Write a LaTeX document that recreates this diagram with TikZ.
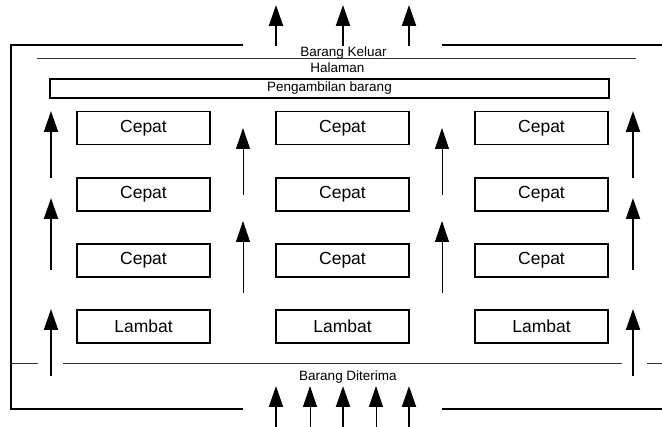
\documentclass[tikz,border=0pt]{standalone}
\usepackage{fontspec}
\setmainfont{Liberation Sans}
\usetikzlibrary{arrows.meta}

\tikzset{
  rak/.style={draw, line width=1.2pt, minimum width=133pt, minimum height=33pt, inner sep=0pt, font=\fontsize{17.5}{20}\selectfont},
  keterangan/.style={anchor=base, inner sep=0pt, font=\fontsize{13.5}{15}\selectfont},
  panah/.style={-{Triangle[width=14pt,length=21pt]}, line width=2pt},
  panahtipis/.style={-{Triangle[width=14pt,length=21pt]}, line width=1pt},
  dinding/.style={line width=2pt},
  garis/.style={line width=0.9pt, black!80}
}

\begin{document}
\begin{tikzpicture}[x=1pt,y=-1pt]
\useasboundingbox (0,0) rectangle (662,427);

% dinding gudang
\draw[dinding] (243,45) -- (11,45) -- (11,409) -- (243,409);
\draw[dinding] (442,45) -- (662,45);
\draw[dinding] (442,409) -- (662,409);

% garis halaman
\draw[garis] (37,58) -- (636,58);
\draw[garis] (11,363) -- (38,363);
\draw[garis] (63,363) -- (622,363);
\draw[garis] (647,363) -- (662,363);

\node[keterangan] (keluar) at (343.5,57) {Barang Keluar};
\node[keterangan] (halaman) at (337.5,73) {Halaman};
\node[keterangan] (terima) at (348,381) {Barang Diterima};
\node[draw, line width=1.2pt, minimum width=559pt, minimum height=19pt, inner sep=0pt, font=\fontsize{13.5}{15}\selectfont] (ambil) at (329.5,88.5) {Pengambilan barang};

% rak barang
\node[rak] (c11) at (143.5,128) {Cepat};
\node[rak] (c12) at (342.5,128) {Cepat};
\node[rak] (c13) at (541.5,128) {Cepat};
\node[rak] (c21) at (143.5,194.5) {Cepat};
\node[rak] (c22) at (342.5,194.5) {Cepat};
\node[rak] (c23) at (541.5,194.5) {Cepat};
\node[rak] (c31) at (143.5,260.5) {Cepat};
\node[rak] (c32) at (342.5,260.5) {Cepat};
\node[rak] (c33) at (541.5,260.5) {Cepat};
\node[rak] (l1) at (143.5,326.5) {Lambat};
\node[rak] (l2) at (342.5,326.5) {Lambat};
\node[rak] (l3) at (541.5,326.5) {Lambat};

% titik arus barang
\coordinate (ka1) at (51,178);  \coordinate (ka1u) at (51,111);
\coordinate (ka2) at (51,270);  \coordinate (ka2u) at (51,198);
\coordinate (ka3) at (51,376);  \coordinate (ka3u) at (51,309);
\coordinate (kn1) at (633,178); \coordinate (kn1u) at (633,111);
\coordinate (kn2) at (633,270); \coordinate (kn2u) at (633,198);
\coordinate (kn3) at (633,376); \coordinate (kn3u) at (633,309);
\coordinate (ta1) at (243,195); \coordinate (ta1u) at (243,128);
\coordinate (ta2) at (243,293); \coordinate (ta2u) at (243,221);
\coordinate (tb1) at (442,195); \coordinate (tb1u) at (442,128);
\coordinate (tb2) at (442,293); \coordinate (tb2u) at (442,221);
\coordinate (out1) at (276,46); \coordinate (out1u) at (276,5);
\coordinate (out2) at (343,46); \coordinate (out2u) at (343,5);
\coordinate (out3) at (409,46); \coordinate (out3u) at (409,5);
\coordinate (in1) at (276,427); \coordinate (in1u) at (276,386);
\coordinate (in2) at (310,427); \coordinate (in2u) at (310,386);
\coordinate (in3) at (343,427); \coordinate (in3u) at (343,386);
\coordinate (in4) at (376,427); \coordinate (in4u) at (376,386);
\coordinate (in5) at (409,427); \coordinate (in5u) at (409,386);

% arus barang
\draw[panah] (ka1) -- (ka1u);
\draw[panah] (ka2) -- (ka2u);
\draw[panah] (ka3) -- (ka3u);
\draw[panah] (kn1) -- (kn1u);
\draw[panah] (kn2) -- (kn2u);
\draw[panah] (kn3) -- (kn3u);
\draw[panahtipis] (ta1) -- (ta1u);
\draw[panahtipis] (ta2) -- (ta2u);
\draw[panahtipis] (tb1) -- (tb1u);
\draw[panahtipis] (tb2) -- (tb2u);
\draw[panah] (out1) -- (out1u);
\draw[panah] (out2) -- (out2u);
\draw[panah] (out3) -- (out3u);
\draw[panah] (in1) -- (in1u);
\draw[panahtipis] (in2) -- (in2u);
\draw[panah] (in3) -- (in3u);
\draw[panahtipis] (in4) -- (in4u);
\draw[panah] (in5) -- (in5u);
\end{tikzpicture}
\end{document}
